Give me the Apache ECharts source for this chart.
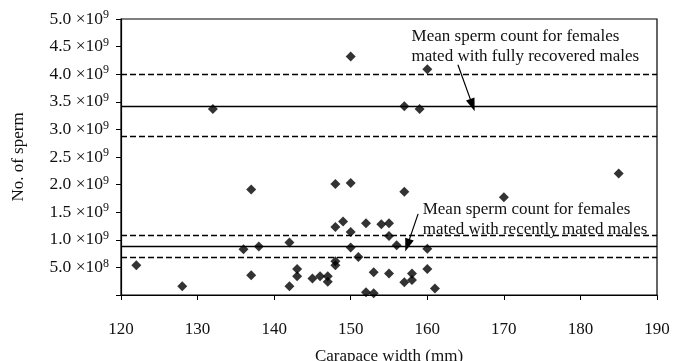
<!DOCTYPE html>
<html>
<head>
<meta charset="utf-8">
<script src="https://cdn.jsdelivr.net/npm/echarts@6/dist/echarts.min.js"></script>
<style>
  html, body { margin: 0; padding: 0; background: #fff; }
  #chart { width: 673px; height: 361px; }
</style>
</head>
<body>
<div id="chart"></div>
<script>
// carapace width (mm) and sperm count for each female
const carapaceWidth = [122, 128, 132, 136, 137, 137, 138, 142, 142, 143, 143, 145, 146, 147, 147,
  148, 148, 148, 148, 149, 150, 150, 150, 150, 151, 152, 152, 153, 153, 154, 155, 155, 155, 156,
  157, 157, 157, 158, 158, 159, 160, 160, 160, 161, 170, 185]
const spermCount = [5.4e8, 1.6e8, 3.37e9, 8.3e8, 1.91e9, 3.6e8, 8.8e8, 9.5e8, 1.6e8, 4.7e8, 3.4e8, 3.0e8, 3.4e8, 3.4e8, 2.4e8,
  2.01e9, 1.23e9, 6.1e8, 5.4e8, 1.33e9, 4.32e9, 2.03e9, 1.14e9, 8.6e8, 6.9e8, 1.30e9, 5e7, 4.1e8, 3e7, 1.28e9, 1.30e9, 1.07e9, 3.9e8, 9.0e8,
  3.42e9, 1.87e9, 2.3e8, 3.9e8, 2.7e8, 3.37e9, 4.09e9, 8.4e8, 4.7e8, 1.2e8, 1.77e9, 2.20e9]

// [lower, mean, upper]
const recoveredBand = [2.87e9, 3.42e9, 4.0e9]
const recentBand = [6.8e8, 8.75e8, 1.087e9]

// y tick labels: [mantissa, exponent], index = value / 5e8
const yTickLabels = [null, ['5.0', '8'], ['1.0', '9'], ['1.5', '9'], ['2.0', '9'], ['2.5', '9'],
  ['3.0', '9'], ['3.5', '9'], ['4.0', '9'], ['4.5', '9'], ['5.0', '9']]

const noteRecovered = ['Mean sperm count for females', 'mated with fully recovered males']
const noteRecent = ['Mean sperm count for females', 'mated with recently mated males']

const FONT = '"Liberation Serif", "DejaVu Serif", serif'

const chart = echarts.init(document.getElementById('chart'))

const bandLines = (band) => band.map((v, i) => ({
  yAxis: v,
  lineStyle: { type: i === 1 ? 'solid' : [6, 3], color: '#000', width: 1.3 }
}))

const arrow = (from, to) => [
  { coord: from, symbol: 'none' },
  { coord: to, symbol: 'triangle', symbolSize: [9, 13] }
]

chart.setOption({
  animation: false,
  textStyle: { fontFamily: FONT, color: '#000' },
  grid: {
    left: 121, right: 16, top: 19, bottom: 66,
    outerBoundsMode: 'none', containLabel: false,
    show: true, borderColor: '#000', borderWidth: 1.2
  },
  xAxis: {
    type: 'value',
    min: 120,
    max: 190,
    interval: 10,
    name: 'Carapace width (mm)',
    nameLocation: 'middle',
    nameGap: 53,
    nameTextStyle: { fontFamily: FONT, fontSize: 17, color: '#111' },
    axisLine: { lineStyle: { color: '#000', width: 1.2 } },
    axisTick: { length: 5, lineStyle: { color: '#000' } },
    axisLabel: { margin: 26, fontFamily: FONT, fontSize: 17, color: '#111' },
    splitLine: { show: false }
  },
  yAxis: {
    type: 'value',
    min: 0,
    max: 5e9,
    interval: 5e8,
    name: 'No. of sperm',
    nameLocation: 'middle',
    nameGap: 94,
    nameTextStyle: { fontFamily: FONT, fontSize: 17, color: '#111' },
    axisLine: { show: true, lineStyle: { color: '#000', width: 1.2 } },
    axisTick: { show: true, length: 5, lineStyle: { color: '#000' } },
    axisLabel: {
      margin: 12,
      formatter: (v) => {
        const t = yTickLabels[Math.round(v / 5e8)]
        return t ? `{a|${t[0]} ×10}{s|${t[1]}}` : ''
      },
      rich: {
        a: { fontFamily: FONT, fontSize: 17.5, color: '#111', lineHeight: 20 },
        s: { fontFamily: FONT, fontSize: 12, color: '#111', lineHeight: 12, verticalAlign: 'top' }
      }
    },
    splitLine: { show: false }
  },
  series: [
    {
      type: 'scatter',
      symbol: 'diamond',
      symbolSize: 10,
      itemStyle: { color: '#000' },
      data: carapaceWidth.map((x, i) => [x, spermCount[i]]),
      markLine: {
        silent: true,
        symbol: 'none',
        label: { show: false },
        data: [...bandLines(recoveredBand), ...bandLines(recentBand)]
      },
      z: 3
    },
    {
      // annotation arrows
      type: 'scatter',
      data: [],
      markLine: {
        silent: true,
        label: { show: false },
        lineStyle: { color: '#000', width: 1.2, type: 'solid' },
        data: [
          arrow([164.0, 4.17e9], [165.9, 3.44e9]),
          arrow([158.8, 1.47e9], [157.4, 0.9e9])
        ]
      }
    }
  ]
})

// annotation texts placed in data coordinates
const place = (coord, lines) => {
  const p = chart.convertToPixel({ gridIndex: 0 }, coord)
  return {
    type: 'text',
    left: p[0],
    top: p[1],
    style: { text: lines.join('\n'), font: `17px ${FONT}`, fill: '#111', lineHeight: 20 }
  }
}

chart.setOption({
  graphic: [
    place([157.95, 4.87e9], noteRecovered),
    place([159.4, 1.725e9], noteRecent)
  ]
})
</script>
</body>
</html>
